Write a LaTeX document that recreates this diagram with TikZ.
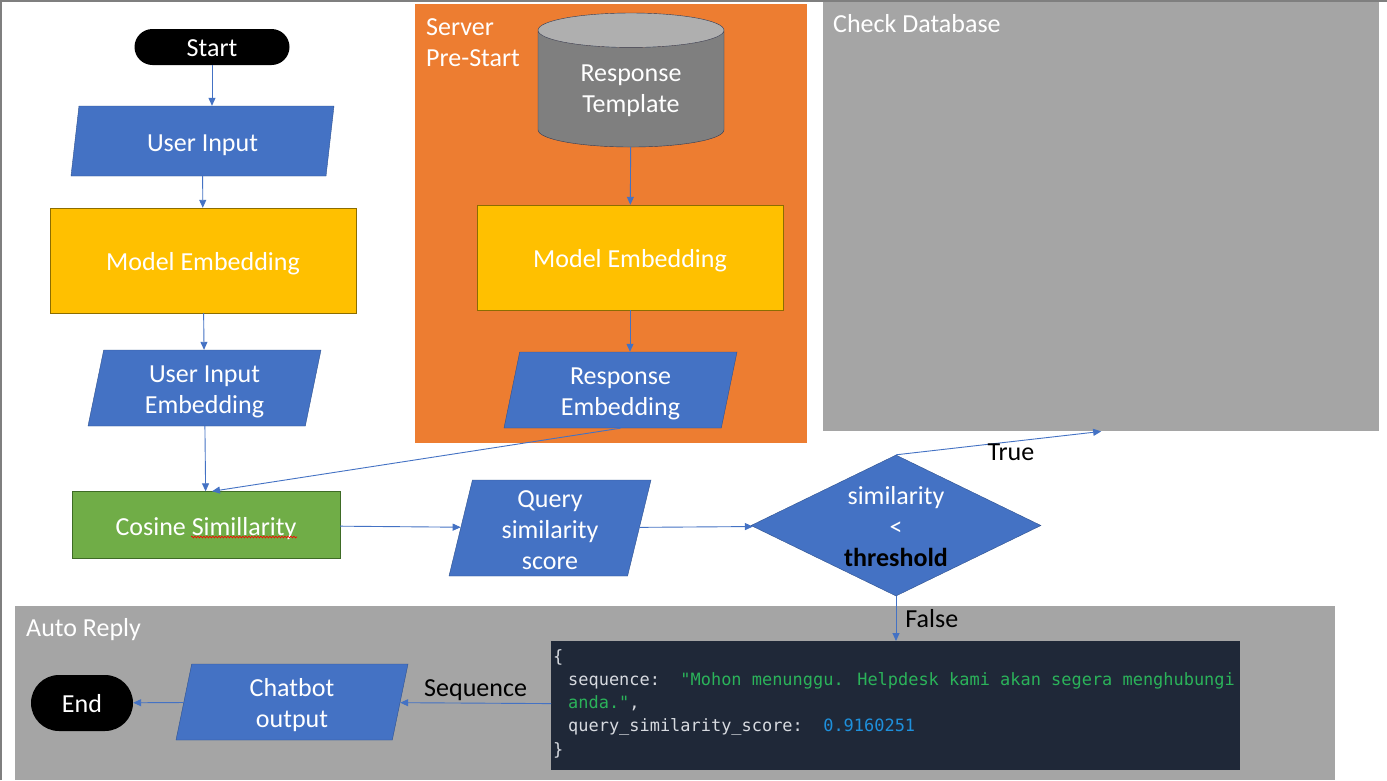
\documentclass[tikz,border=0pt]{standalone}
\usepackage{fontspec}
\setmainfont{Carlito}
\newfontfamily\codefont{DejaVu Sans Mono}
\usetikzlibrary{positioning,calc,arrows.meta,shapes.geometric,shapes.misc,decorations.pathmorphing}

\definecolor{ioblue}{HTML}{4472C4}
\definecolor{ioedge}{HTML}{2F528F}
\definecolor{gold}{HTML}{FFC000}
\definecolor{goldedge}{HTML}{8C6D00}
\definecolor{cosgreen}{HTML}{70AD47}
\definecolor{cosedge}{HTML}{3E6B25}
\definecolor{srvorange}{HTML}{ED7D31}
\definecolor{panelgray}{HTML}{A5A5A5}
\definecolor{dbbody}{HTML}{7F7F7F}
\definecolor{dbtop}{HTML}{AFAFAF}
\definecolor{dbedge}{HTML}{2F3B55}
\definecolor{codebg}{HTML}{1F2838}
\definecolor{codekey}{HTML}{D7DAE0}
\definecolor{codestr}{HTML}{2BB35A}
\definecolor{codenum}{HTML}{1E90DC}
\definecolor{framegray}{HTML}{7F7F7F}

\tikzset{
  txt/.style={font=\fontsize{26}{31}\selectfont},
  boxtxt/.style={txt, text height=26pt, text depth=6pt},
  twolines/.style={text height=57pt},
  threelines/.style={text height=88pt},
  panel/.style={anchor=north west, inner sep=0, draw=none},
  paneltitle/.style={txt, anchor=north west, align=left, inner sep=0, text=white},
  terminal/.style={txt, text height=22pt, text depth=4pt, rounded rectangle, fill=black, text=white, inner sep=0},
  io/.style={boxtxt, trapezium, trapezium left angle=76, trapezium right angle=104,
    trapezium stretches body, draw=ioedge, fill=ioblue, text=white, align=center, inner sep=0},
  process/.style={boxtxt, rectangle, draw=goldedge, fill=gold, text=white,
    minimum width=306, minimum height=105},
  db/.style={txt, cylinder, shape border rotate=90, aspect=0.32, draw=dbedge,
    cylinder uses custom fill, cylinder body fill=dbbody, cylinder end fill=dbtop,
    text=white, align=center, minimum width=186, minimum height=134},
  decision/.style={boxtxt, threelines, diamond, aspect=2, draw=ioedge, fill=ioblue, text=white,
    align=center, inner sep=-8pt, minimum width=290, minimum height=141},
  lbl/.style={txt, text=black, inner sep=2},
  flow/.style={draw=ioblue, line width=0.9, -{Triangle[length=8pt,width=7pt]}},
  codetext/.style={anchor=north west, align=left, inner sep=0,
    font=\codefont\fontsize{16.95}{23.3}\selectfont, text=codekey}
}

\begin{document}
\begin{tikzpicture}[x=1pt,y=-1pt]
    \useasboundingbox[fill=white] (0,0) rectangle (1387,780);

    % Panels
    \node[panel, fill=srvorange, minimum width=392, minimum height=439] (srv) at (415,4) {};
    \node[panel, fill=panelgray, minimum width=556, minimum height=431] (chk) at (823,0) {};
    \node[panel, fill=panelgray, minimum width=1320, minimum height=174] (auto) at (15,606) {};
    \node[paneltitle] (srvtitle) at (426,18) {Server\\Pre-Start};
    \node[paneltitle] (chktitle) at (833,14) {Check Database};
    \node[paneltitle] (autotitle) at (26,618) {Auto Reply};

    % Frame
    \draw[framegray, line width=2] (1,780) -- (1,1) -- (1387,1);

    % User side
    \node[terminal, minimum width=155, minimum height=36] (start) at (212,47) {Start};
    \node[io, minimum width=263, minimum height=70] (ui) at (202.5,141) {User Input};
    \node[process] (me1) at (203,260.5) {Model Embedding};
    \node[io, twolines, minimum width=233, minimum height=76] (uie) at (204.5,388) {User Input\\Embedding};
    \node[boxtxt, rectangle, draw=cosedge, fill=cosgreen, text=white,
          minimum width=268, minimum height=67] (cos) at (206,525) {Cosine Simillarity};

    % Server side
    \node[db] (tpl) at (631,91) {Response\\Template};
    \node[process] (me2) at (630,257.5) {Model Embedding};
    \node[io, twolines, minimum width=233, minimum height=76] (re) at (620.5,390) {Response\\Embedding};

    % Scoring and decision
    \node[io, threelines, minimum width=202, minimum height=96] (qs) at (550,528) {Query\\similarity\\score};
    \node[decision] (dec) at (896,525.5) {similarity\\<\\\textbf{\color{black}threshold}};

    % Auto reply
    \node[panel, fill=codebg, minimum width=689, minimum height=129] (reply) at (551,641) {};
    \node[codetext] (code) at (553,649) {%
        \{\\
        \hspace*{15pt}sequence:\ \ {\color{codestr}"Mohon menunggu. Helpdesk kami akan segera menghubungi}\\
        \hspace*{15pt}{\color{codestr}anda."},\\
        \hspace*{15pt}query\_similarity\_score:\ \ {\color{codenum}0.9160251}\\
        \}};
    \node[io, twolines, minimum width=232, minimum height=76] (chat) at (292,702) {Chatbot\\output};
    \node[terminal, minimum width=102, minimum height=56] (end) at (82,703) {End};

    % Connectors
    \draw[flow] (start.south) -- (start.south |- ui.north);
    \draw[flow] (ui) -- (me1);
    \draw[flow] (me1) -- (uie);
    \draw[flow] (uie) -- (cos);
    \draw[flow] (tpl) -- (me2);
    \draw[flow] (me2.south) -- (me2.south |- re.north);
    \draw[flow] (re.center |- re.south) -- ($(cos.north)+(6,0)$);
    \draw[flow] (cos) -- (qs);
    \draw[flow] (qs) -- (dec);
    \draw[flow] (dec.north) -- node[lbl, below, pos=0.56] {True} (chk.south);
    \draw[flow] (dec) -- node[lbl, right=7pt, midway] {False} (dec.south |- reply.north);
    \draw[flow] (reply) -- node[lbl, above, midway] {Sequence} (chat);
    \draw[flow] (chat) -- (end);

    % Spell-check squiggle
    \draw[red, line width=0.6, decorate, decoration={snake, amplitude=0.9pt, segment length=3pt}]
        ($(cos.center)+(-15,12)$) -- ($(cos.center)+(91,12)$);
\end{tikzpicture}
\end{document}
